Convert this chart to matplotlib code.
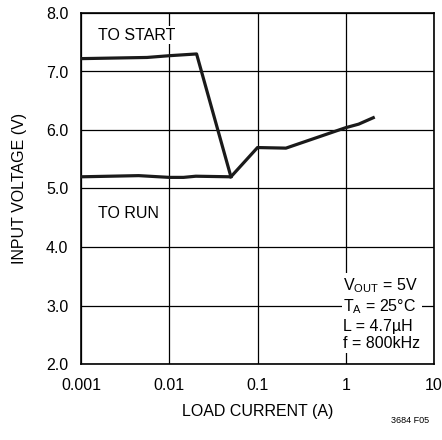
import matplotlib
matplotlib.use("Agg")
import matplotlib.pyplot as plt
from matplotlib.ticker import FixedLocator, NullLocator

plt.rcParams['font.family'] = ['Liberation Sans Narrow', 'Liberation Sans', 'DejaVu Sans']

# data
start_current = [0.001, 0.0056, 0.01, 0.0204, 0.05]
start_voltage = [7.22, 7.24, 7.27, 7.30, 5.20]

run_current = [0.001, 0.0045, 0.01, 0.0145, 0.02, 0.05, 0.1, 0.21, 1.0, 1.4, 2.05]
run_voltage = [5.20, 5.22, 5.19, 5.19, 5.21, 5.20, 5.70, 5.69, 6.04, 6.10, 6.21]

x_ticks = [0.001, 0.01, 0.1, 1, 10]
x_tick_labels = ['0.001', '0.01', '0.1', '1', '10']
y_ticks = [2.0, 3.0, 4.0, 5.0, 6.0, 7.0, 8.0]

fig = plt.figure(figsize=(4.42, 4.40), dpi=100)
ax = fig.add_axes([81 / 442, 1 - 364 / 440, (434 - 81) / 442, (364 - 13) / 440])

ax.set_xscale('log')
ax.set_xlim(0.001, 10)
ax.set_ylim(2.0, 8.0)
ax.xaxis.set_major_locator(FixedLocator(x_ticks))
ax.xaxis.set_minor_locator(NullLocator())
ax.set_xticklabels(x_tick_labels)
ax.set_yticks(y_ticks)
ax.set_yticklabels([f'{v:.1f}' for v in y_ticks])
ax.tick_params(axis='x', length=0, labelsize=11.5, pad=10)
ax.tick_params(axis='y', length=0, labelsize=11.5, pad=9)
ax.grid(True, color='black', linewidth=0.9)
for s in ax.spines.values():
    s.set_linewidth(1.2)

ax.plot(start_current, start_voltage, color='#1a1a1a', linewidth=2.3, zorder=3)
ax.plot(run_current, run_voltage, color='#1a1a1a', linewidth=2.3, zorder=3)

box = dict(facecolor='white', edgecolor='none', pad=1)
ax.text(0.00155, 7.62, 'TO START', fontsize=11.5, va='center', ha='left', bbox=box, zorder=4)
ax.text(0.00155, 4.58, 'TO RUN', fontsize=11.5, va='center', ha='left', bbox=box, zorder=4)
ax.text(0.94, 2.86,
        '$\\mathregular{V_{OUT}}$ = 5V\n$\\mathregular{T_A}$ = 25°C\nL = 4.7µH\nf = 800kHz',
        fontsize=11.5, va='center', ha='left', linespacing=1.2, bbox=box, zorder=4)

ax.set_xlabel('LOAD CURRENT (A)', fontsize=11.5, labelpad=8)
ax.set_ylabel('INPUT VOLTAGE (V)', fontsize=11.5, labelpad=14)
fig.text(410 / 442, 1 - 420 / 440, '3684 F05', fontsize=6.5, ha='center', va='center')

fig.savefig('out.png', dpi=100)
